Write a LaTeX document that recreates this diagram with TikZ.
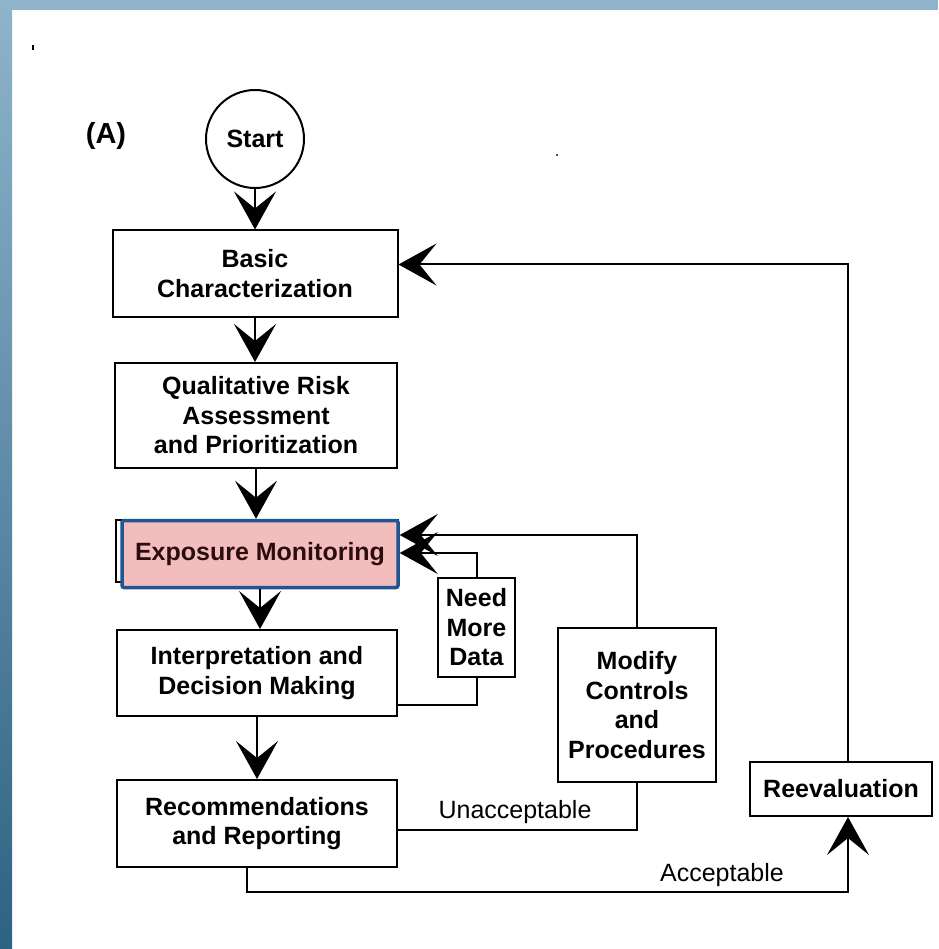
\documentclass[tikz,border=0pt]{standalone}
\usepackage{fontspec}
\setmainfont{Liberation Sans}
\usetikzlibrary{arrows.meta}

\definecolor{frametop}{HTML}{8FB4CC}
\definecolor{framebot}{HTML}{2E6283}
\definecolor{hlfill}{HTML}{F4BDBD}
\definecolor{hlborder}{HTML}{1F5591}
\definecolor{hltext}{HTML}{2B0D0D}

\tikzset{
  stepbox/.style={draw, line width=2pt, align=center, inner sep=0pt,
    font=\fontsize{25}{29.5}\selectfont\bfseries},
  wire/.style={line width=2pt},
  flow/.style={line width=2pt, -{Stealth[length=38pt,width=42pt,inset=17pt]}},
  tag/.style={inner sep=0pt, font=\fontsize{25}{29}\selectfont}
}

\begin{document}
\begin{tikzpicture}[x=1pt,y=-1pt]
  % page and slide frame
  \useasboundingbox (0,0) rectangle (938,949);
  \fill[white] (0,0) rectangle (938,949);
  \fill[frametop] (0,0) rectangle (938,10);
  \shade[top color=frametop, bottom color=framebot] (0,0) rectangle (12,949);

  % stray specks
  \fill[black] (32,45) rectangle (34,50);
  \fill[black!70] (556,154) rectangle (558,156);

  % label
  \node[inner sep=0pt, font=\fontsize{29}{32}\selectfont\bfseries] (lbl) at (106,136) {(A)};

  % main column
  \node[draw, circle, line width=2pt, minimum size=98pt, inner sep=0pt,
        font=\fontsize{25}{29}\selectfont\bfseries] (start) at (255,139) {Start};
  \node[stepbox, minimum width=285pt, minimum height=86pt] (basic) at (255,273.5)
        {Basic\\Characterization};
  \node[stepbox, minimum width=282pt, minimum height=105pt] (qual) at (256,415.5)
        {Qualitative Risk\\Assessment\\and Prioritization};
  \node[draw, line width=2pt, minimum width=282pt, minimum height=62pt] (expoback) at (257,551) {};
  \node[stepbox, draw=hlborder, fill=hlfill, line width=3.5pt, rounded corners=2pt,
        text=hltext, minimum width=276pt, minimum height=67pt] (expo) at (260,554)
        {Exposure Monitoring};
  \node[stepbox, minimum width=280pt, minimum height=86pt] (interp) at (257,673)
        {Interpretation and\\Decision Making};
  \node[stepbox, minimum width=280pt, minimum height=87pt] (recomm) at (257,823.5)
        {Recommendations\\and Reporting};

  % side boxes
  \node[stepbox, minimum width=77pt, minimum height=99pt] (need) at (476.5,627.5)
        {Need\\More\\Data};
  \node[stepbox, minimum width=158pt, minimum height=154pt] (modify) at (637,705)
        {Modify\\Controls\\and\\Procedures};
  \node[stepbox, minimum width=182pt, minimum height=54pt] (reeval) at (841,789)
        {Reevaluation};

  % main flow
  \draw[flow] (start.south) -- (start.south |- basic.north);
  \draw[flow] (basic.south) -- (basic.south |- qual.north);
  \draw[flow] (qual.south) -- (qual.south |- expo.north);
  \draw[flow] (expo.south) -- (expo.south |- interp.north);
  \draw[flow] (interp.south) -- (interp.south |- recomm.north);

  % need more data loop
  \draw[wire] ([yshift=-32pt]interp.east) -| (need.south);
  \draw[flow] (need.north) |- ([yshift=1pt]expo.east);

  % unacceptable loop
  \draw[wire] ([yshift=-6.5pt]recomm.east) -| (modify.south);
  \draw[flow] (modify.north) |- ([yshift=19pt]expo.east);
  \node[tag] (unacc) at (515,812) {Unacceptable};

  % acceptable path and reevaluation loop
  \draw[flow] ([xshift=-10pt]recomm.south) -- ++(0,24) -| ([xshift=7pt]reeval.south);
  \node[tag] (acc) at (722,875) {Acceptable};
  \draw[flow] ([xshift=7pt]reeval.north) |- ([yshift=9pt]basic.east);
\end{tikzpicture}
\end{document}
